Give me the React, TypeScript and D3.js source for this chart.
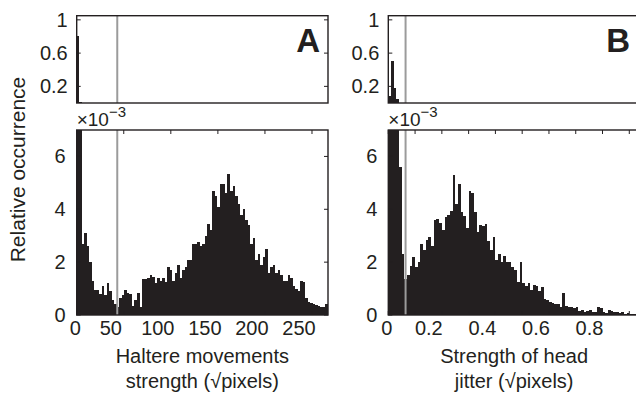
import React from 'react';
import * as d3 from 'd3';

// ---------- data (relative occurrence, in units of 10^-3) ----------
const haltereBinWidth = 2.67; // √pixels per bin
const haltereOccurrence = [
  800, 9, 2.7, 3.1, 2.6, 2.0, 1.3, 0.95, 0.95, 0.8,
  1.1, 0.75, 1.2, 0.9, 0.55, 0.4, 0.3, 0.65, 0.75, 0.95,
  0.85, 0.8, 0.35, 0.55, 0.85, 0.3, 1.35, 1.35, 1.4, 1.5,
  1.45, 1.2, 1.4, 1.3, 1.4, 1.25, 1.8, 1.7, 1.3, 1.6,
  1.9, 1.4, 1.7, 1.8, 2.1, 2.1, 2.7, 2.7, 2.75, 2.6,
  2.7, 3.0, 3.45, 3.2, 4.7, 4.5, 4.1, 4.95, 4.95, 4.6,
  5.35, 4.7, 4.9, 4.5, 4.2, 3.8, 4.0, 3.6, 3.4, 2.7,
  2.9, 2.1, 2.3, 1.9, 2.2, 2.5, 1.6, 1.8, 1.9, 1.6,
  1.7, 1.5, 1.3, 1.3, 1.5, 1.4, 1.1, 1.0, 0.9, 1.3,
  1.25, 0.65, 0.5, 0.45, 0.4, 0.38, 0.35, 0.3, 0.3, 0.4,
];
const haltereThreshold = 43.1;
const haltereXMax = 267;
const haltereTicks = [0, 50, 100, 150, 200, 250];
const haltereTickLabels = ['0', '50', '100', '150', '200', '250'];

const jitterBinWidth = 0.01;
const jitterOccurrence = [
  80, 500, 180, 50, 5.6, 2.3, 1.35, 1.5, 1.85, 2.2,
  1.8, 2.0, 2.7, 2.45, 2.85, 2.95, 2.6, 3.6, 3.65, 3.5,
  3.2, 3.7, 3.8, 3.95, 5.3, 4.2, 4.95, 3.9, 3.75, 3.3,
  4.7, 4.6, 3.9, 3.15, 3.4, 3.35, 3.45, 2.8, 2.45, 2.95,
  2.1, 2.3, 2.0, 2.25, 2.0, 2.0, 1.8, 1.7, 1.25, 2.0,
  1.2, 1.1, 1.2, 0.95, 1.15, 1.1, 0.9, 1.05, 0.6, 0.55,
  0.5, 0.45, 0.4, 0.4, 0.3, 0.85, 0.35, 0.3, 0.3, 0.25,
  0.3, 0.15, 0.2, 0.12, 0.15, 0.2, 0.12, 0.1, 0.3, 0.25,
  0.1, 0.08, 0.2, 0.15, 0.12, 0.1, 0.08, 0.1, 0.05, 0.08,
  0.05, 0.04, 0.03, 0.03,
];
const jitterThreshold = 0.0645;
const jitterXMax = 0.94;
const jitterTicks = [0, 0.1, 0.2, 0.3, 0.4, 0.5, 0.6, 0.7, 0.8, 0.9];
const jitterTickLabels = ['0', '', '0.2', '', '0.4', '', '0.6', '', '0.8', ''];

const lowerYTicks = [0, 2, 4, 6];
const lowerYTickLabels = ['0', '2', '4', '6'];
const upperYTicks = [0.2, 0.6, 1];
const upperYTickLabels = ['0.2', '0.6', '1'];

const yAxisTitle = 'Relative occurrence';
const scaleNote = '×10';
const scaleExp = '−3';

// ---------- style / layout ----------
const W = 636;
const H = 393;
const INK = '#231f20';
const GRAY = '#9b9b9b';
const FONT = '"Liberation Sans", Arial, Helvetica, sans-serif';
const TOP_Y0 = 15.7;
const TOP_Y1 = 103;
const LOW_Y0 = 130;
const LOW_Y1 = 315;
const TICK = 4;

type PanelCfg = {
  letter: string;
  values: number[];
  binWidth: number;
  xMax: number;
  threshold: number;
  ticks: number[];
  tickLabels: string[];
  title: string[];
  left: number;
  right: number;
};

const panels: PanelCfg[] = [
  {
    letter: 'A',
    values: haltereOccurrence,
    binWidth: haltereBinWidth,
    xMax: haltereXMax,
    threshold: haltereThreshold,
    ticks: haltereTicks,
    tickLabels: haltereTickLabels,
    title: ['Haltere movements', 'strength (√pixels)'],
    left: 76.7,
    right: 328,
  },
  {
    letter: 'B',
    values: jitterOccurrence,
    binWidth: jitterBinWidth,
    xMax: jitterXMax,
    threshold: jitterThreshold,
    ticks: jitterTicks,
    tickLabels: jitterTickLabels,
    title: ['Strength of head', 'jitter (√pixels)'],
    left: 388.3,
    right: 640,
  },
];

function Panel({ cfg }: { cfg: PanelCfg }) {
  const x = d3.scaleLinear().domain([0, cfg.xMax]).range([cfg.left, cfg.right]);
  const yTop = d3.scaleLinear().domain([0, 1.05]).range([TOP_Y1, TOP_Y0]);
  const yLow = d3.scaleLinear().domain([0, 7]).range([LOW_Y1, LOW_Y0]);
  const cx = (cfg.left + cfg.right) / 2;
  const tx = x(cfg.threshold);

  return (
    <g>
      {/* upper (full-range) histogram */}
      <g shapeRendering="crispEdges">
        {cfg.values.map((v, i) => {
          const x0 = x(i * cfg.binWidth);
          const x1 = x((i + 1) * cfg.binWidth);
          const y = yTop(v / 1000);
          return (
            <rect key={'t' + i} x={x0} y={y} width={x1 - x0} height={Math.max(0, TOP_Y1 - y)} fill={INK} />
          );
        })}
      </g>
      <line x1={tx} x2={tx} y1={TOP_Y0} y2={TOP_Y1} stroke={GRAY} strokeWidth={2} />
      <rect x={cfg.left} y={TOP_Y0} width={cfg.right - cfg.left} height={TOP_Y1 - TOP_Y0} fill="none" stroke={INK} strokeWidth={1.4} />
      {upperYTicks.map((t, i) => (
        <g key={'ut' + i}>
          <line x1={cfg.left} x2={cfg.left + TICK} y1={yTop(t)} y2={yTop(t)} stroke={INK} strokeWidth={1} />
          <line x1={cfg.right} x2={cfg.right - TICK} y1={yTop(t)} y2={yTop(t)} stroke={INK} strokeWidth={1} />
          <text x={cfg.left - 9} y={yTop(t) + 7} textAnchor="end" fontSize={20} fill={INK}>
            {upperYTickLabels[i]}
          </text>
        </g>
      ))}

      {/* lower (zoomed) histogram */}
      <g shapeRendering="crispEdges">
        {cfg.values.map((v, i) => {
          const x0 = x(i * cfg.binWidth);
          const x1 = x((i + 1) * cfg.binWidth);
          const y = yLow(Math.min(v, 7));
          return (
            <rect key={'l' + i} x={x0} y={y} width={x1 - x0} height={LOW_Y1 - y} fill={INK} />
          );
        })}
      </g>
      <line x1={tx} x2={tx} y1={LOW_Y0} y2={LOW_Y1} stroke={GRAY} strokeWidth={2} />
      <rect x={cfg.left} y={LOW_Y0} width={cfg.right - cfg.left} height={LOW_Y1 - LOW_Y0} fill="none" stroke={INK} strokeWidth={1.4} />
      {lowerYTicks.map((t, i) => (
        <g key={'lt' + i}>
          <line x1={cfg.left} x2={cfg.left + TICK} y1={yLow(t)} y2={yLow(t)} stroke={INK} strokeWidth={1} />
          <line x1={cfg.right} x2={cfg.right - TICK} y1={yLow(t)} y2={yLow(t)} stroke={INK} strokeWidth={1} />
          <text x={cfg.left - 11} y={yLow(t) + 7} textAnchor="end" fontSize={20} fill={INK}>
            {lowerYTickLabels[i]}
          </text>
        </g>
      ))}
      {cfg.ticks.map((t, i) => (
        <g key={'xt' + i}>
          <line x1={x(t)} x2={x(t)} y1={LOW_Y0} y2={LOW_Y0 + TICK} stroke={INK} strokeWidth={1} />
          <line x1={x(t)} x2={x(t)} y1={LOW_Y1} y2={LOW_Y1 - TICK} stroke={INK} strokeWidth={1} />
          {cfg.tickLabels[i] && (
            <text x={x(t) + (t === 0 ? -1.5 : -13)} y={335} textAnchor="middle" fontSize={20} fill={INK}>
              {cfg.tickLabels[i]}
            </text>
          )}
        </g>
      ))}
      <text x={cfg.left} y={126} fontSize={19} fill={INK}>
        {scaleNote}
        <tspan dy={-9.5} fontSize={15}>{scaleExp}</tspan>
      </text>

      {/* panel letter */}
      <text x={cfg.letter === 'A' ? cfg.right - 8 : 630} y={52} textAnchor="end" fontSize={33} fontWeight="bold" fill={INK}>
        {cfg.letter}
      </text>

      {/* x title */}
      {cfg.title.map((line, i) => (
        <text key={'ti' + i} x={cx} y={363 + i * 25} textAnchor="middle" fontSize={20} fill={INK}>
          {line}
        </text>
      ))}
    </g>
  );
}

export default function App() {
  return (
    <svg
      width={W}
      height={H}
      viewBox={`0 0 ${W} ${H}`}
      style={{ position: 'absolute', left: 0, top: 0, background: '#fff', overflow: 'hidden' }}
      fontFamily={FONT}
    >
      {panels.map((p) => (
        <Panel key={p.letter} cfg={p} />
      ))}
      <text transform="translate(25,169.5) rotate(-90)" textAnchor="middle" fontSize={21} fill={INK}>
        {yAxisTitle}
      </text>
    </svg>
  );
}
